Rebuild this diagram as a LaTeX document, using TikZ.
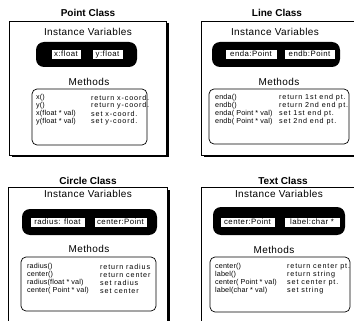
\documentclass[tikz,border=0pt]{standalone}
\usepackage{fontspec}
\setmainfont{Liberation Sans}
\newfontfamily\callfont[LetterSpace=2]{Liberation Sans}
\newfontfamily\notefont[LetterSpace=12]{Liberation Sans}
\newfontfamily\fieldfont[LetterSpace=6]{Liberation Sans}
\newfontfamily\headfont[LetterSpace=4]{Liberation Sans}
\begin{document}
\begin{tikzpicture}[x=1pt,y=-1pt,
  classtitle/.style={font=\fontsize{10}{12}\selectfont\bfseries, inner sep=0pt},
  heading/.style={font=\headfont\fontsize{10}{12}\selectfont, inner sep=0pt},
  varfield/.style={draw=black, fill=white, line width=0.6pt, inner sep=0pt,
    font=\fieldfont\fontsize{7.8}{8}\selectfont},
  callrow/.style={anchor=west, inner sep=0pt, font=\callfont\fontsize{7.2}{8}\selectfont},
  noterow/.style={anchor=west, inner sep=0pt, font=\notefont\fontsize{7.2}{8}\selectfont},
  varpanel/.style={fill=black, rounded corners=8pt},
  methodpanel/.style={draw=black, fill=white, line width=0.7pt, rounded corners=5pt},
  classframe/.style={draw=black, fill=white, line width=0.7pt}
]
\useasboundingbox (0,0) rectangle (354,321);
\clip (0,0) rectangle (354,321);
\fill[white] (0,0) rectangle (354,321);

% frames with a drop shadow on the right and bottom
\newcommand{\classbox}[4]{%
  \fill[black] (#1+2.5,#2+2.5) rectangle (#3+2.5,#4+2.5);
  \path[classframe] (#1,#2) rectangle (#3,#4);}
\newcommand{\varfieldbox}[6]{%
  \node[varfield, minimum width=#4-#2, minimum height=#5-#3] (#1)
    at ({(#2+#4)/2},{(#3+#5)/2}) {#6};}

% ---------------- Point Class ----------------
\classbox{9}{21}{166}{155}
\node[classtitle] (ptitle) at (88,13) {Point Class};
\node[heading] (pvars) at (88,32) {Instance Variables};
\path[varpanel] (36,42) rectangle (137,67);
\varfieldbox{px}{51}{49}{81}{59}{x:float}
\varfieldbox{py}{92}{49}{123}{59}{y:float}
\node[heading] (pmeth) at (89,82) {Methods};
\path[methodpanel] (32,89) rectangle (147,145);
\node[callrow] (pm1) at (36,98) {x()};
\node[callrow] (pm2) at (36,106) {y()};
\node[callrow] (pm3) at (36,114) {x(float * val)};
\node[callrow] (pm4) at (36,122) {y(float * val)};
\node[noterow] (pr1) at (91,98) {return x-coord.};
\node[noterow] (pr2) at (91,106) {return y-coord.};
\node[noterow] (pr3) at (91,114) {set x-coord.};
\node[noterow] (pr4) at (91,122) {set y-coord.};

% ---------------- Line Class ----------------
\classbox{201}{21}{362}{155}
\node[classtitle] (ltitle) at (277,13) {Line Class};
\node[heading] (lvars) at (275,32) {Instance Variables};
\path[varpanel] (212,42) rectangle (340,67);
\varfieldbox{la}{225}{49}{277}{59}{enda:Point}
\varfieldbox{lb}{284}{49}{335}{59}{endb:Point}
\node[heading] (lmeth) at (279,82) {Methods};
\path[methodpanel] (209,89) rectangle (349,144);
\node[callrow] (lm1) at (215,98) {enda()};
\node[callrow] (lm2) at (215,106) {endb()};
\node[callrow] (lm3) at (215,114) {enda( Point * val)};
\node[callrow] (lm4) at (215,122) {endb( Point * val)};
\node[noterow] (lr1) at (279,98) {return 1st end pt.};
\node[noterow] (lr2) at (279,106) {return 2nd end pt.};
\node[noterow] (lr3) at (279,114) {set 1st end pt.};
\node[noterow] (lr4) at (279,122) {set 2nd end pt.};

% ---------------- Circle Class ----------------
\classbox{8}{187}{167}{330}
\node[classtitle] (ctitle) at (88,181) {Circle Class};
\node[heading] (cvars) at (88,194) {Instance Variables};
\path[varpanel] (22,209) rectangle (157,235);
\varfieldbox{cr}{30}{217}{85}{227}{radius: float}
\varfieldbox{cc}{94}{217}{147}{227}{center:Point}
\node[heading] (cmeth) at (89,249) {Methods};
\path[methodpanel] (21,257) rectangle (156,311);
\node[callrow] (cm1) at (27,267) {radius()};
\node[callrow] (cm2) at (27,275) {center()};
\node[callrow] (cm3) at (27,283) {radius(float * val)};
\node[callrow] (cm4) at (27,291) {center( Point * val)};
\node[noterow] (cr1) at (100,267) {return radius};
\node[noterow] (cr2) at (100,275) {return center};
\node[noterow] (cr3) at (100,283) {set radius};
\node[noterow] (cr4) at (100,291) {set center};

% ---------------- Text Class ----------------
\classbox{201}{187}{362}{330}
\node[classtitle] (ttitle) at (283,181) {Text Class};
\node[heading] (tvars) at (279,194) {Instance Variables};
\path[varpanel] (213,207) rectangle (345,235);
\varfieldbox{tc}{220}{217}{275}{227}{center:Point}
\varfieldbox{tl}{284}{217}{340}{227}{label:char *}
\node[heading] (tmeth) at (274,250) {Methods};
\path[methodpanel] (210,257) rectangle (350,312);
\node[callrow] (tm1) at (215,267) {center()};
\node[callrow] (tm2) at (215,275) {label()};
\node[callrow] (tm3) at (215,283) {center( Point * val)};
\node[callrow] (tm4) at (215,291) {label(char * val)};
\node[noterow] (tr1) at (287,267) {return center pt.};
\node[noterow] (tr2) at (287,275) {return string};
\node[noterow] (tr3) at (287,283) {set center pt.};
\node[noterow] (tr4) at (287,291) {set string};
\end{tikzpicture}
\end{document}
